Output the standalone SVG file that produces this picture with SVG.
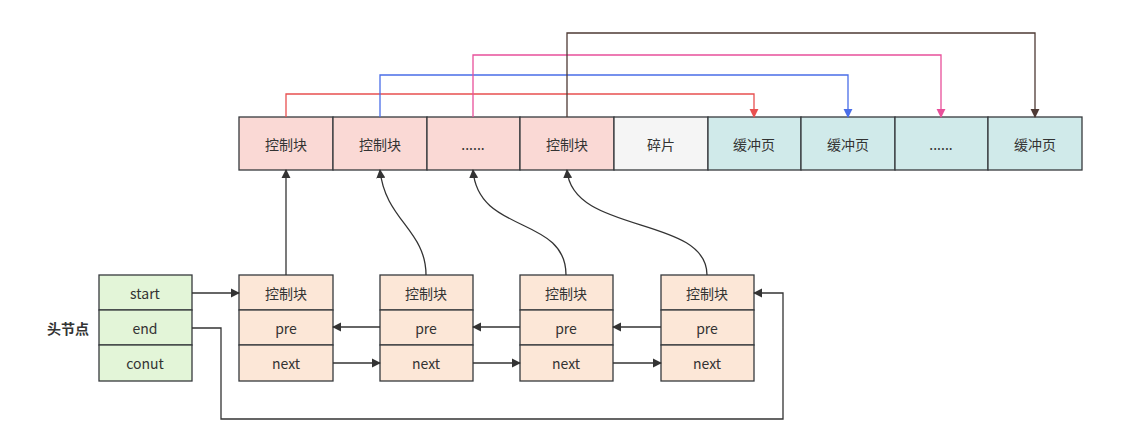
<svg xmlns="http://www.w3.org/2000/svg" width="1126" height="421" viewBox="0 0 1126 421">
<style>
text{font-family:"Noto Sans CJK SC","Noto Sans",sans-serif;font-size:14px;fill:#333;text-anchor:middle;dominant-baseline:central}
.c{stroke:#36393d;stroke-width:1.3}
.r{fill:#fad9d5}.g{fill:#f5f5f5}.t{fill:#d0eaea}.h{fill:#e3f5d8}.o{fill:#fce7d7}
.l{fill:none;stroke-width:1.3}
</style>
<defs>
<marker id="a" viewBox="0 0 10 10" refX="9" refY="5" markerWidth="7" markerHeight="7" orient="auto"><path d="M0,0L10,5L0,10Z" fill="context-stroke"/></marker>
<marker id="ak" viewBox="0 0 10 10" refX="9" refY="5" markerWidth="7" markerHeight="7" orient="auto"><path d="M0,0L10,5L0,10Z" fill="#333"/></marker>
<marker id="ar" viewBox="0 0 10 10" refX="9" refY="5" markerWidth="7" markerHeight="7" orient="auto"><path d="M0,0L10,5L0,10Z" fill="#e85050"/></marker>
<marker id="ab" viewBox="0 0 10 10" refX="9" refY="5" markerWidth="7" markerHeight="7" orient="auto"><path d="M0,0L10,5L0,10Z" fill="#4a6ee8"/></marker>
<marker id="ap" viewBox="0 0 10 10" refX="9" refY="5" markerWidth="7" markerHeight="7" orient="auto"><path d="M0,0L10,5L0,10Z" fill="#e8509a"/></marker>
<marker id="an" viewBox="0 0 10 10" refX="9" refY="5" markerWidth="7" markerHeight="7" orient="auto"><path d="M0,0L10,5L0,10Z" fill="#4e3a35"/></marker>
</defs>
<g id="memory">
<rect class="c r" x="239" y="117" width="94" height="53"/><text x="286" y="144">控制块</text>
<rect class="c r" x="333" y="117" width="94" height="53"/><text x="380" y="144">控制块</text>
<rect class="c r" x="427" y="117" width="93" height="53"/><text x="473" y="144">......</text>
<rect class="c r" x="520" y="117" width="94" height="53"/><text x="567" y="144">控制块</text>
<rect class="c g" x="614" y="117" width="94" height="53"/><text x="661" y="144">碎片</text>
<rect class="c t" x="708" y="117" width="93" height="53"/><text x="754" y="144">缓冲页</text>
<rect class="c t" x="801" y="117" width="94" height="53"/><text x="848" y="144">缓冲页</text>
<rect class="c t" x="895" y="117" width="93" height="53"/><text x="941" y="144">......</text>
<rect class="c t" x="988" y="117" width="94" height="53"/><text x="1035" y="144">缓冲页</text>
</g>
<g id="head">
<text x="68" y="328" style="font-weight:bold">头节点</text>
<rect class="c h" x="99" y="275" width="93" height="35"/><text x="145" y="293">start</text>
<rect class="c h" x="99" y="310" width="93" height="35"/><text x="145" y="328">end</text>
<rect class="c h" x="99" y="345" width="93" height="36"/><text x="145" y="363">conut</text>
</g>
<g id="n1"><rect class="c o" x="239" y="275" width="94" height="35"/><text x="286" y="293">控制块</text><rect class="c o" x="239" y="310" width="94" height="35"/><text x="286" y="328">pre</text><rect class="c o" x="239" y="345" width="94" height="36"/><text x="286" y="363">next</text></g>
<g id="n2"><rect class="c o" x="380" y="275" width="93" height="35"/><text x="426" y="293">控制块</text><rect class="c o" x="380" y="310" width="93" height="35"/><text x="426" y="328">pre</text><rect class="c o" x="380" y="345" width="93" height="36"/><text x="426" y="363">next</text></g>
<g id="n3"><rect class="c o" x="520" y="275" width="93" height="35"/><text x="566" y="293">控制块</text><rect class="c o" x="520" y="310" width="93" height="35"/><text x="566" y="328">pre</text><rect class="c o" x="520" y="345" width="93" height="36"/><text x="566" y="363">next</text></g>
<g id="n4"><rect class="c o" x="661" y="275" width="93" height="35"/><text x="707" y="293">控制块</text><rect class="c o" x="661" y="310" width="93" height="35"/><text x="707" y="328">pre</text><rect class="c o" x="661" y="345" width="93" height="36"/><text x="707" y="363">next</text></g>
<g id="connectors">
<path class="l" stroke="#e85050" marker-end="url(#ar)" d="M286,117V94H754V117"/>
<path class="l" stroke="#4a6ee8" marker-end="url(#ab)" d="M380,117V75H848V117"/>
<path class="l" stroke="#e8509a" marker-end="url(#ap)" d="M473,117V55H941V117"/>
<path class="l" stroke="#4e3a35" marker-end="url(#an)" d="M567,117V33H1035V117"/>
<g stroke="#333" class="l" fill="none">
<path marker-end="url(#ak)" d="M286,275V170"/>
<path marker-end="url(#ak)" d="M426,275C426,230 385,220 380,170"/>
<path marker-end="url(#ak)" d="M566,275C566,215 478,235 473,170"/>
<path marker-end="url(#ak)" d="M707,275C707,215 572,235 567,170"/>
<path marker-end="url(#ak)" d="M192,293H239"/>
<path marker-end="url(#ak)" d="M192,328H221V419H783V293H754"/>
<path marker-end="url(#ak)" d="M380,327H333"/>
<path marker-end="url(#ak)" d="M520,327H473"/>
<path marker-end="url(#ak)" d="M661,327H613"/>
<path marker-end="url(#ak)" d="M333,363H380"/>
<path marker-end="url(#ak)" d="M473,363H520"/>
<path marker-end="url(#ak)" d="M613,363H661"/>
</g>
</g>
</svg>
